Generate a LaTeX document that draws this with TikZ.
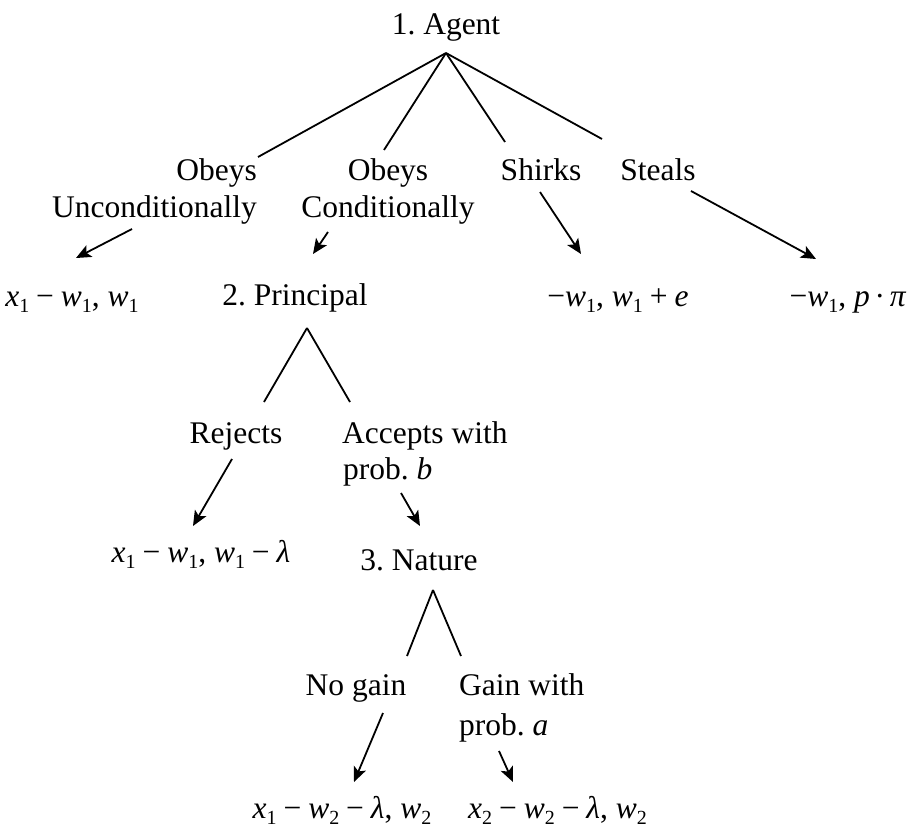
\documentclass[tikz,border=0pt]{standalone}
\usepackage{fontspec}
\setmainfont{Liberation Serif}
\usetikzlibrary{arrows.meta}
\frenchspacing
\newcommand{\mi}[1]{\textit{#1}}
\newcommand{\lowsub}[1]{\raisebox{-0.22em}{\fontsize{20}{20}\selectfont #1}}
\newcommand{\mns}{\hspace{0.22em}−\hspace{0.22em}}
\newcommand{\pls}{\hspace{0.22em}+\hspace{0.22em}}
\begin{document}
\begin{tikzpicture}[x=1pt,y=-1pt,
  lbl/.style={inner sep=0pt,font=\fontsize{31.5}{37}\selectfont},
  branch/.style={line width=1.8pt},
  arr/.style={line width=1.8pt,-{Stealth[length=15pt,width=13pt,inset=3.5pt]}}]
\useasboundingbox (0,0) rectangle (907,832);
% level 1
\node[lbl,anchor=base] (agent) at (446,35) {1. Agent};
\coordinate (apex1) at (446,53);
\node[lbl,anchor=base east] (ou1) at (257,180) {Obeys};
\node[lbl,anchor=base east] (ou2) at (257,217) {Unconditionally};
\node[lbl,anchor=base] (oc1) at (388,180) {Obeys};
\node[lbl,anchor=base] (oc2) at (388,217) {Conditionally};
\node[lbl,anchor=base] (shirks) at (541,180) {Shirks};
\node[lbl,anchor=base] (steals) at (658,180) {Steals};
\coordinate (eou) at (258,157);
\coordinate (eoc) at (384,150);
\coordinate (esh) at (505,142);
\coordinate (est) at (602,139);
\draw[branch] (apex1) -- (eou);
\draw[branch] (apex1) -- (eoc);
\draw[branch] (apex1) -- (esh);
\draw[branch] (apex1) -- (est);
% payoffs row 1
\node[lbl,anchor=base] (p1) at (72,306) {\mi{x}\lowsub{1}\mns\mi{w}\lowsub{1}, \mi{w}\lowsub{1}};
\node[lbl,anchor=base] (principal) at (295,305) {2. Principal};
\node[lbl,anchor=base] (p3) at (618,306) {−\mi{w}\lowsub{1}, \mi{w}\lowsub{1}\pls\mi{e}};
\node[lbl,anchor=base] (p4) at (848,306) {−\mi{w}\lowsub{1}, \mi{p}\hspace{0.15em}·\hspace{0.15em}\mi{π}};
\coordinate (aou) at (132,229);
\coordinate (aoc) at (328,232);
\coordinate (ash) at (540,192);
\coordinate (ast) at (691,191);
\coordinate (hp1) at (76,258);
\coordinate (hpr) at (313,254);
\coordinate (hp3) at (581,254);
\coordinate (hp4) at (816,259);
\draw[arr] (aou) -- (hp1);
\draw[arr] (aoc) -- (hpr);
\draw[arr] (ash) -- (hp3);
\draw[arr] (ast) -- (hp4);
% principal subtree
\coordinate (apex2) at (307,328);
\coordinate (erj) at (264,402);
\coordinate (eac) at (350,402);
\draw[branch] (apex2) -- (erj);
\draw[branch] (apex2) -- (eac);
\node[lbl,anchor=base] (rejects) at (236,443) {Rejects};
\node[lbl,anchor=base west] (acc1) at (342,443) {Accepts with};
\node[lbl,anchor=base west] (acc2) at (343,479) {prob. \mi{b}};
\coordinate (arj) at (232,459);
\coordinate (aac) at (401,493);
\node[lbl,anchor=base] (p5) at (201,562) {\mi{x}\lowsub{1}\mns\mi{w}\lowsub{1}, \mi{w}\lowsub{1}\mns\mi{λ}};
\node[lbl,anchor=base] (nature) at (419,570) {3. Nature};
\coordinate (hp5) at (193,526);
\coordinate (hna) at (420,526);
\draw[arr] (arj) -- (hp5);
\draw[arr] (aac) -- (hna);
% nature subtree
\coordinate (apex3) at (433,590);
\coordinate (eng) at (407,656);
\coordinate (egw) at (461,656);
\draw[branch] (apex3) -- (eng);
\draw[branch] (apex3) -- (egw);
\node[lbl,anchor=base] (nogain) at (356,695) {No gain};
\node[lbl,anchor=base west] (gw1) at (459,695) {Gain with};
\node[lbl,anchor=base west] (gw2) at (459,735) {prob. \mi{a}};
\coordinate (ang) at (383,713);
\coordinate (agw) at (499,751);
\coordinate (hp6) at (354,782);
\coordinate (hp7) at (513,782);
\draw[arr] (ang) -- (hp6);
\draw[arr] (agw) -- (hp7);
\node[lbl,anchor=base] (p6) at (342,818) {\mi{x}\lowsub{1}\mns\mi{w}\lowsub{2}\mns\mi{λ}, \mi{w}\lowsub{2}};
\node[lbl,anchor=base west] (p7) at (468,818) {\mi{x}\lowsub{2}\mns\mi{w}\lowsub{2}\mns\mi{λ}, \mi{w}\lowsub{2}};
\end{tikzpicture}
\end{document}
